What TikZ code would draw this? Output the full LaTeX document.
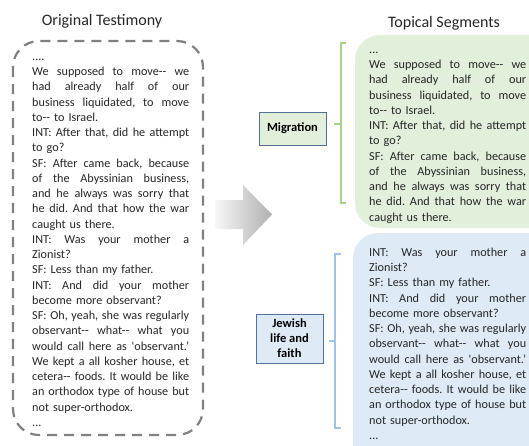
\documentclass[tikz,border=0pt]{standalone}
\usepackage{fontspec}
\setmainfont{Carlito}[Ligatures=TeXOff]
\setlength{\parindent}{0pt}
\setlength{\parskip}{0pt}
\definecolor{txt}{RGB}{38,38,38}
\definecolor{dashgray}{RGB}{128,128,128}
\definecolor{greenfill}{RGB}{226,239,218}
\definecolor{bluefill}{RGB}{222,235,247}
\definecolor{greenline}{RGB}{169,209,142}
\definecolor{blueline}{RGB}{157,195,230}
\definecolor{labelborder}{RGB}{84,112,150}
\newlength{\colw}
\setlength{\colw}{157pt}
\newcommand\Jl[1]{\hbox to \colw{\frenchspacing\spaceskip=\fontdimen2\font plus 1fil\relax\strut #1}}
\newcommand\Ll[1]{\hbox to \colw{\frenchspacing\strut #1\hfil}}
\tikzset{
  body/.style={inner sep=0pt, text width=\colw, anchor=north west, text=txt,
    font=\fontsize{12.2}{15.25}\selectfont},
  title/.style={inner sep=0pt, text=txt, font=\fontsize{16}{19}\selectfont},
  labelbox/.style={draw=labelborder, line width=0.8pt, inner sep=0pt, text=black,
    align=center, minimum width=67pt, font=\bfseries\fontsize{12.5}{15}\selectfont},
  seg/.style={rounded corners=25pt},
  brace/.style={line width=1.3pt}
}
\begin{document}
\begin{tikzpicture}[x=1pt,y=-1pt]
\useasboundingbox (0,0) rectangle (529,445);
\clip (0,0) rectangle (529,445);

% titles
\node[title] (t1) at (102,21) {Original Testimony};
\node[title] (t2) at (444,23) {Topical Segments};

% original testimony dashed box
\draw[dashgray, line width=2.2pt, dash pattern=on 10pt off 7pt, rounded corners=26pt]
  (13,41) rectangle (203,435);
\node[body] (orig) at (32,49.4) {%
\Ll{....}
\Jl{We supposed to move-- we}
\Jl{had already half of our}
\Jl{business liquidated, to move}
\Ll{to-- to Israel.}
\Jl{INT: After that, did he attempt}
\Ll{to go?}
\Jl{SF: After came back, because}
\Jl{of the Abyssinian business,}
\Jl{and he always was sorry that}
\Jl{he did. And that how the war}
\Ll{caught us there.}
\Jl{INT: Was your mother a}
\Ll{Zionist?}
\Ll{SF: Less than my father.}
\Jl{INT: And did your mother}
\Ll{become more observant?}
\Jl{SF: Oh, yeah, she was regularly}
\Jl{observant-- what-- what you}
\Jl{would call here as 'observant.’}
\Jl{We kept a all kosher house, et}
\Jl{cetera-- foods. It would be like}
\Jl{an orthodox type of house but}
\Ll{not super-orthodox.}
\Ll{...}};

% big arrow
\shade[left color=gray!6, right color=gray!62]
  (215,200) -- (243,200) -- (243,185) -- (272,214.5) -- (243,245) -- (243,229) -- (215,229) -- cycle;

% segment boxes
\fill[greenfill, seg] (355,35) rectangle (560,228);
\fill[bluefill, seg] (353,233) rectangle (560,470);

\node[body] (seg1) at (369,42.4) {%
\Ll{...}
\Jl{We supposed to move-- we}
\Jl{had already half of our}
\Jl{business liquidated, to move}
\Ll{to-- to Israel.}
\Jl{INT: After that, did he attempt}
\Ll{to go?}
\Jl{SF: After came back, because}
\Jl{of the Abyssinian business,}
\Jl{and he always was sorry that}
\Jl{he did. And that how the war}
\Ll{caught us there.}};

\node[body] (seg2) at (369,245.4) {%
\Jl{INT: Was your mother a}
\Ll{Zionist?}
\Ll{SF: Less than my father.}
\Jl{INT: And did your mother}
\Ll{become more observant?}
\Jl{SF: Oh, yeah, she was regularly}
\Jl{observant-- what-- what you}
\Jl{would call here as 'observant.’}
\Jl{We kept a all kosher house, et}
\Jl{cetera-- foods. It would be like}
\Jl{an orthodox type of house but}
\Ll{not super-orthodox.}
\Ll{...}};

% labels
\node[labelbox, fill=greenfill, minimum height=33pt] (mig) at (292.5,128.5) {Migration};
\node[labelbox, fill=bluefill, minimum height=49pt] (jew) at (289.5,338.5) {Jewish\\life and\\faith};

% brackets
\coordinate (g1) at (341,124);
\coordinate (b1) at (335,341);
\draw[brace, greenline] (346,43) -- (341,43) -- (341,203) -- (346,203);
\draw[brace, greenline] (g1) -- (334,124);
\draw[brace, blueline] (341,254) -- (335,254) -- (335,428) -- (341,428);
\draw[brace, blueline] (b1) -- (329,341);
\end{tikzpicture}
\end{document}
